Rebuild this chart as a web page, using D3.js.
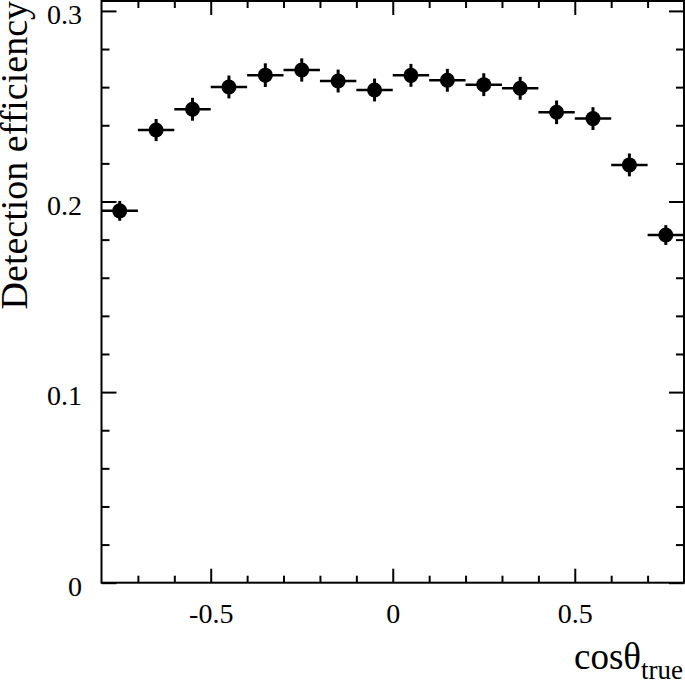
<!DOCTYPE html>
<html>
<head>
<meta charset="utf-8">
<script src="https://cdn.jsdelivr.net/npm/d3@7"></script>
<style>
  body { margin: 0; background: #fff; }
  svg text { font-family: "Liberation Serif", "DejaVu Serif", serif; fill: #000; }
</style>
</head>
<body>
<svg id="chart" width="685" height="682" viewBox="0 0 685 682"></svg>
<script>
// bin centres of cos(theta_true), efficiency and its error
const binCenters = [-0.75, -0.65, -0.55, -0.45, -0.35, -0.25, -0.15, -0.05,
                     0.05,  0.15,  0.25,  0.35,  0.45,  0.55,  0.65,  0.75]
const efficiency = [0.1951, 0.2375, 0.2484, 0.2601, 0.2663, 0.2690, 0.2632, 0.2585,
                    0.2662, 0.2636, 0.2613, 0.2594, 0.2468, 0.2435, 0.2192, 0.1824]
const effError   = [0.0052, 0.0058, 0.0060, 0.0060, 0.0062, 0.0061, 0.0060, 0.0060,
                    0.0060, 0.0060, 0.0060, 0.0060, 0.0062, 0.0060, 0.0060, 0.0052]
const binWidth = 0.1
const xMajor = [-0.5, 0, 0.5]
const xMinor = [-0.7, -0.6, -0.4, -0.3, -0.2, -0.1, 0.1, 0.2, 0.3, 0.4, 0.6, 0.7]
const yMajor = [0, 0.1, 0.2, 0.3]
const yMinor = [0.02, 0.04, 0.06, 0.08, 0.12, 0.14, 0.16, 0.18, 0.22, 0.24, 0.26, 0.28]
const xDomain = [-0.8, 0.8]
const yDomain = [0, 0.3052]

const svg = d3.select("#chart")
const padLeft = 101.5, padRight = 684, padTop = 1, padBottom = 582.7

const x = d3.scaleLinear().domain(xDomain).range([padLeft, padRight])
const y = d3.scaleLinear().domain(yDomain).range([padBottom, padTop])

const data = binCenters.map((c, i) => ({c: c, v: efficiency[i], e: effError[i]}))

// axes, ROOT style: ticks pointing inwards on all four sides
function styleAxis(g) {
    g.select(".domain").remove()
    g.selectAll("line").attr("stroke", "#000").attr("stroke-width", 2)
    g.selectAll("text").style("font-size", "28px").attr("fill", "#000")
}
let fmt = d => String(d)

svg.append("g").attr("transform", `translate(0,${padBottom})`)
    .call(d3.axisBottom(x).tickValues(xMajor).tickSize(-14).tickPadding(20.5).tickFormat(fmt))
    .call(styleAxis)
svg.append("g").attr("transform", `translate(0,${padBottom})`)
    .call(d3.axisBottom(x).tickValues(xMinor).tickSize(-7).tickFormat(""))
    .call(styleAxis)
svg.append("g").attr("transform", `translate(0,${padTop})`)
    .call(d3.axisTop(x).tickValues(xMajor).tickSize(-14).tickFormat(""))
    .call(styleAxis)
svg.append("g").attr("transform", `translate(0,${padTop})`)
    .call(d3.axisTop(x).tickValues(xMinor).tickSize(-7).tickFormat(""))
    .call(styleAxis)

svg.append("g").attr("transform", `translate(${padLeft},0)`)
    .call(d3.axisLeft(y).tickValues(yMajor).tickSize(-15).tickPadding(19.5).tickFormat(fmt))
    .call(styleAxis)
    .call(g => g.selectAll("text").attr("dy", "0.45em"))
svg.append("g").attr("transform", `translate(${padLeft},0)`)
    .call(d3.axisLeft(y).tickValues(yMinor).tickSize(-8).tickFormat(""))
    .call(styleAxis)
svg.append("g").attr("transform", `translate(${padRight},0)`)
    .call(d3.axisRight(y).tickValues(yMajor).tickSize(-15).tickFormat(""))
    .call(styleAxis)
svg.append("g").attr("transform", `translate(${padRight},0)`)
    .call(d3.axisRight(y).tickValues(yMinor).tickSize(-8).tickFormat(""))
    .call(styleAxis)

// frame
svg.append("rect")
    .attr("x", padLeft).attr("y", padTop)
    .attr("width", padRight - padLeft).attr("height", padBottom - padTop)
    .attr("fill", "none").attr("stroke", "#000").attr("stroke-width", 2)

// data: horizontal bin bars, vertical error bars, markers
let points = svg.append("g").selectAll("g")
    .data(data)
    .enter()
    .append("g")

points.append("line")
    .attr("x1", d => x(Math.max(d.c - binWidth / 2, xDomain[0])))
    .attr("x2", d => x(Math.min(d.c + binWidth / 2, xDomain[1])))
    .attr("y1", d => y(d.v))
    .attr("y2", d => y(d.v))
    .attr("stroke", "#000").attr("stroke-width", 2.5)

points.append("line")
    .attr("x1", d => x(d.c))
    .attr("x2", d => x(d.c))
    .attr("y1", d => y(d.v - d.e))
    .attr("y2", d => y(d.v + d.e))
    .attr("stroke", "#000").attr("stroke-width", 3)

points.append("circle")
    .attr("cx", d => x(d.c))
    .attr("cy", d => y(d.v))
    .attr("r", 7.5)
    .attr("fill", "#000")

// titles
svg.append("text")
    .attr("transform", `translate(27,1) rotate(-90)`)
    .attr("text-anchor", "end")
    .style("font-size", "38px")
    .text("Detection efficiency")

let xt = svg.append("text")
    .attr("x", 683).attr("y", 669)
    .attr("text-anchor", "end")
    .style("font-size", "37px")
xt.append("tspan").text("cosθ")
xt.append("tspan").attr("dy", 10).style("font-size", "27px").text("true")
</script>
</body>
</html>
